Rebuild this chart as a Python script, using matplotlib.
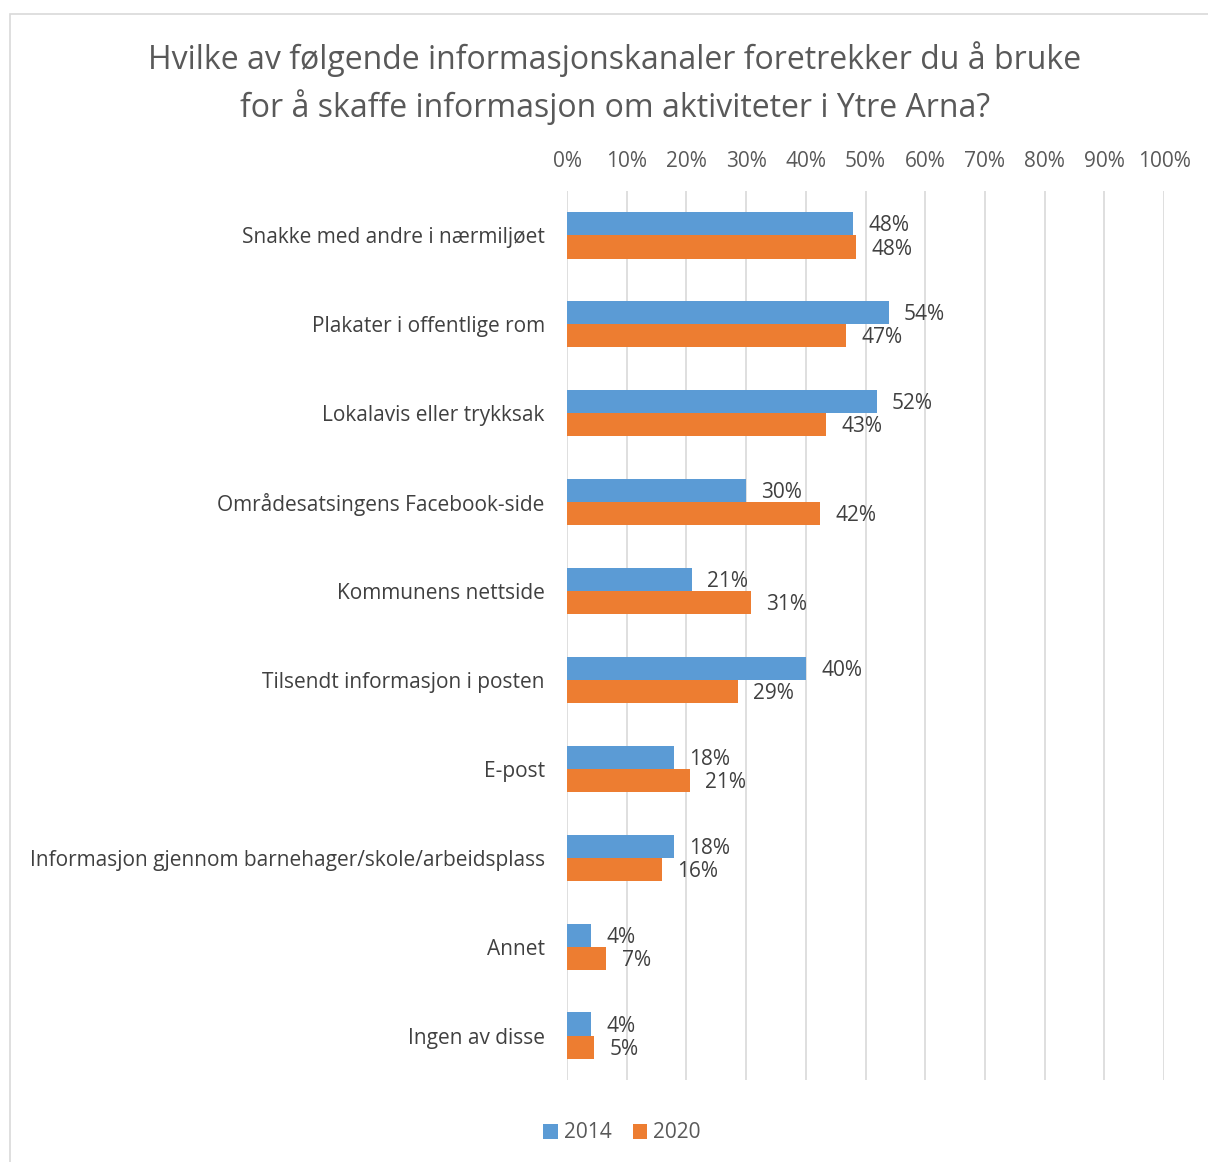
import numpy as np
import matplotlib.pyplot as plt
from matplotlib.patches import Rectangle

plt.rcParams['font.family'] = ['Open Sans', 'DejaVu Sans']

# data
categories = [
    "Snakke med andre i nærmiljøet",
    "Plakater i offentlige rom",
    "Lokalavis eller trykksak",
    "Områdesatsingens Facebook-side",
    "Kommunens nettside",
    "Tilsendt informasjon i posten",
    "E-post",
    "Informasjon gjennom barnehager/skole/arbeidsplass",
    "Annet",
    "Ingen av disse",
]
vals_2014 = [47.9, 53.9, 51.9, 30.0, 20.9, 40.0, 17.9, 17.9, 4.0, 4.0]
vals_2020 = [48.4, 46.7, 43.4, 42.4, 30.8, 28.6, 20.6, 15.9, 6.6, 4.6]
series_names = ["2014", "2020"]
ticks = [0, 10, 20, 30, 40, 50, 60, 70, 80, 90, 100]

blue = "#5b9bd5"
orange = "#ed7d31"
txt = "#595959"

fig = plt.figure(figsize=(12.08, 11.62), dpi=100)
fig.patches.append(Rectangle((10 / 1208, -0.1), 1.2, 1 - 14 / 1162 + 0.1,
                             transform=fig.transFigure, fill=False,
                             edgecolor="#d9d9d9", lw=1.2))

ax = fig.add_axes([567 / 1208, 1 - 1080 / 1162, 597 / 1208, (1080 - 191) / 1162])

y = np.arange(len(categories))
h = 0.26
b1 = ax.barh(y - h / 2, vals_2014, height=h, color=blue, label=series_names[0])
b2 = ax.barh(y + h / 2, vals_2020, height=h, color=orange, label=series_names[1])

for bars, vals in ((b1, vals_2014), (b2, vals_2020)):
    for bar, v in zip(bars, vals):
        ax.annotate(f"{v:.0f}%", (bar.get_width(), bar.get_y() + bar.get_height() / 2),
                    xytext=(11, -1.5), textcoords="offset points", va="center", ha="left",
                    fontsize=15, color="#404040")

ax.set_xlim(0, 100)
ax.set_ylim(len(categories) - 0.5, -0.5)
ax.set_xticks(ticks)
ax.set_xticklabels([f"{t}%" for t in ticks], fontsize=15, color=txt)
ax.xaxis.tick_top()
ax.tick_params(axis="x", length=0, pad=14)
ax.set_yticks(y)
ax.set_yticklabels(categories, fontsize=15, color="#404040")
ax.tick_params(axis="y", length=0, pad=16)
ax.grid(axis="x", color="#d9d9d9", lw=1.2)
ax.set_axisbelow(True)
for s in ax.spines.values():
    s.set_visible(False)

fig.text(615 / 1208, 1 - 83 / 1162,
         "Hvilke av følgende informasjonskanaler foretrekker du å bruke\nfor å skaffe informasjon om aktiviteter i Ytre Arna?",
         ha="center", va="center", fontsize=23, color=txt, linespacing=1.45)

fig.legend(handles=[b1, b2], labels=series_names, loc="center",
           bbox_to_anchor=(622 / 1208, 1 - 1133 / 1162), ncol=2, frameon=False,
           fontsize=15, labelcolor=txt, handlelength=0.7, handleheight=0.7,
           handletextpad=0.3, columnspacing=1.0)

fig.savefig("out.png", dpi=100)
